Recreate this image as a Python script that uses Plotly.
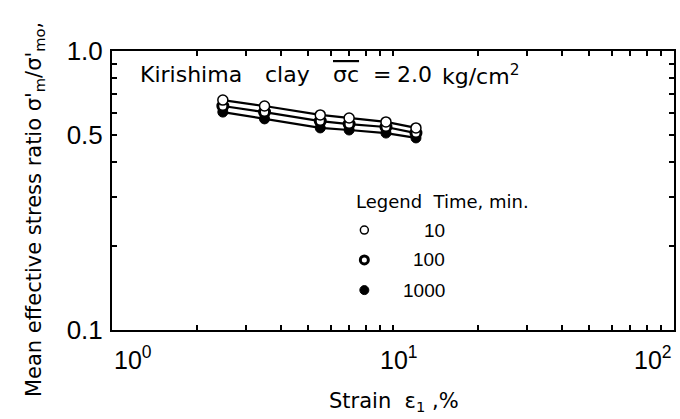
import plotly.graph_objects as go

strain = [2.48, 3.49, 5.51, 6.98, 9.44, 12.07]
ratio_10 = [0.667, 0.635, 0.590, 0.575, 0.557, 0.530]
ratio_100 = [0.635, 0.604, 0.561, 0.547, 0.534, 0.508]
ratio_1000 = [0.604, 0.571, 0.530, 0.521, 0.508, 0.488]
legend_labels = ["10", "100", "1000"]
x_tickvals = [1, 10, 100]
x_ticktext = ["10<sup>0</sup>", "10<sup>1</sup>", "10<sup>2</sup>"]
y_tickvals = [0.1, 0.5, 1.0]
y_ticktext = ["0.1", "0.5", "1.0"]

TFONT = "Liberation Sans"
SFONT = "DejaVu Sans"
NB = "\u00a0"

styles = {
    "10": dict(symbol="circle", color="white", line=dict(color="black", width=1.5), size=10),
    "100": dict(symbol="circle", color="white", line=dict(color="black", width=3), size=10),
    "1000": dict(symbol="circle", color="black", line=dict(color="black", width=1), size=10),
}

fig = go.Figure()
for name, vals in [("1000", ratio_1000), ("100", ratio_100), ("10", ratio_10)]:
    fig.add_trace(go.Scatter(
        x=strain, y=vals, mode="lines+markers",
        line=dict(color="black", width=2.2),
        marker=styles[name], showlegend=False, cliponaxis=False,
    ))

# legend markers on an overlay axis with 0..1 range
leg_x = [0.449, 0.449, 0.449]
leg_y = [0.358, 0.251, 0.143]
for i, name in enumerate(legend_labels):
    fig.add_trace(go.Scatter(
        x=[leg_x[i]], y=[leg_y[i]], mode="markers",
        marker=dict(styles[name], size=8 if i < 2 else 9), xaxis="x2", yaxis="y2", showlegend=False,
    ))
    fig.add_annotation(x=0.596, y=leg_y[i], xref="paper", yref="paper",
                       text=name, showarrow=False, xanchor="right", yanchor="middle",
                       font=dict(family=TFONT, size=19, color="black"))

fig.add_annotation(x=0.431, y=0.459, xref="paper", yref="paper",
                   text="Legend" + NB * 2 + "Time, min.", showarrow=False,
                   xanchor="left", yanchor="middle",
                   font=dict(family=SFONT, size=18, color="black"))

# title pieces, centred on the word positions of the original (which is widely spaced)
title_words = ["Kirishima", "clay", "<span style='text-decoration:overline'>σc</span>",
               "=", "2.0", "kg/cm<sup>2</sup>"]
title_x = [0.141, 0.313, 0.416, 0.480, 0.539, 0.656]
for w, xp in zip(title_words, title_x):
    fig.add_annotation(x=xp, y=0.914, xref="paper", yref="paper",
                       text=w, showarrow=False, xanchor="center", yanchor="middle",
                       font=dict(family=SFONT, size=22, color="black"))

fig.add_annotation(x=-0.137, y=0.43, xref="paper", yref="paper",
                   text="Mean effective stress ratio σ'<sub>m</sub>/σ'<sub>mo</sub>,",
                   showarrow=False, textangle=-90, xanchor="center", yanchor="middle",
                   font=dict(family=SFONT, size=21, color="black"))
fig.add_annotation(x=0.502, y=-0.258, xref="paper", yref="paper",
                   text="Strain" + NB * 2 + "ε<sub>1</sub>" + NB + ",%", showarrow=False,
                   xanchor="center", yanchor="middle",
                   font=dict(family=SFONT, size=21, color="black"))

# x tick labels placed as in the original (first one starts at the axis, last ends at the edge)
xt_pos = [0.0, 0.511, 1.0]
xt_anchor = ["left", "center", "right"]
for t, xp, anc in zip(x_ticktext, xt_pos, xt_anchor):
    fig.add_annotation(x=xp, y=-0.035, xref="paper", yref="paper",
                       text=t, showarrow=False, xanchor=anc, yanchor="top",
                       font=dict(family=TFONT, size=25, color="black"))

axis_common = dict(type="log", showgrid=False, zeroline=False, showline=True,
                   linecolor="black", linewidth=2, mirror="allticks",
                   ticks="inside", ticklen=5, tickwidth=1.5, tickcolor="black",
                   tickfont=dict(family=TFONT, size=26, color="black"))

fig.update_layout(
    width=680, height=419,
    margin=dict(l=112, r=4, t=51, b=89),
    paper_bgcolor="white", plot_bgcolor="white",
    xaxis=dict(axis_common, range=[0, 2],
               tickvals=[1, 2, 3, 4, 5, 6, 7, 8, 9, 10, 20, 30, 40, 50, 60, 70, 80, 90, 100],
               ticktext=[""] * 19),
    yaxis=dict(axis_common, range=[-1, 0], ticklabelstandoff=2,
               tickvals=[0.1, 0.2, 0.3, 0.4, 0.5, 0.6, 0.7, 0.8, 0.9, 1.0],
               ticktext=[y_ticktext[0], "", "", "", y_ticktext[1], "", "", "", "", y_ticktext[2]]),
    xaxis2=dict(overlaying="x", range=[0, 1], visible=False),
    yaxis2=dict(overlaying="y", range=[0, 1], visible=False),
)

fig.write_html("out.html")
